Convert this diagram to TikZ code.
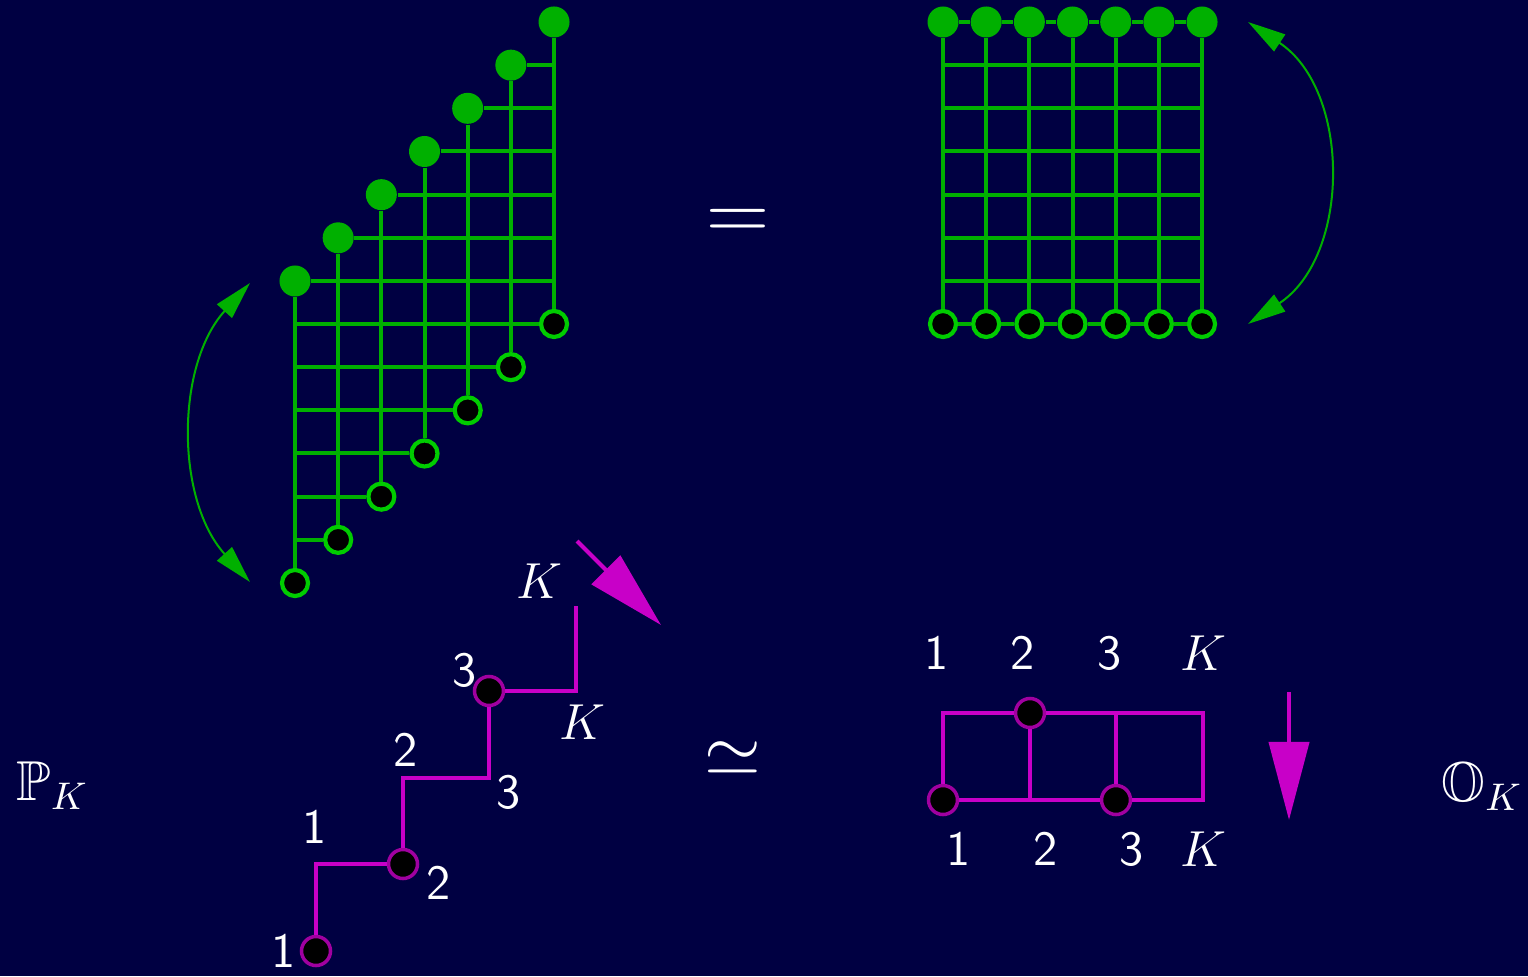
\documentclass[tikz,border=0pt]{standalone}
\usepackage{amssymb}
\usetikzlibrary{arrows.meta}
\definecolor{bgc}{RGB}{0,0,66}
\definecolor{ggreen}{RGB}{0,176,0}
\definecolor{gbright}{RGB}{0,204,0}
\definecolor{mag}{RGB}{200,0,200}
\definecolor{magdark}{RGB}{160,0,160}
\tikzset{
  gline/.style={draw=ggreen, line width=0.04cm},
  gdot/.style={circle, fill=ggreen, inner sep=0pt, minimum size=0.31cm},
  gring/.style={circle, draw=gbright, line width=0.042cm, fill=black, inner sep=0pt, minimum size=0.26cm},
  mline/.style={draw=mag, line width=0.04cm},
  mring/.style={circle, draw=magdark, line width=0.035cm, fill=black, inner sep=0pt, minimum size=0.29cm},
  lbl/.style={text=white, inner sep=0pt, font=\fontsize{14}{17}\selectfont\sffamily},
  garc/.style={draw=ggreen, line width=0.02cm, {Triangle[length=0.38cm,width=0.20cm]}-{Triangle[length=0.38cm,width=0.20cm]}},
  marrow/.style={draw=mag, line width=0.04cm, -{Triangle[length=0.78cm,width=0.40cm]}},
}
\begin{document}
\begin{tikzpicture}[x=0.01cm,y=-0.01cm]
\fill[bgc] (0,0) rectangle (1528,976);
\useasboundingbox (0,0) rectangle (1528,976);

% ---------- left staircase grid ----------
\foreach \i in {1,...,7}{
  \node[gdot] (Lt\i) at ({295+(\i-1)*43.17},{281-(\i-1)*43.17}) {};
  \node[gring] (Lb\i) at ({295+(\i-1)*43.17},{583-(\i-1)*43.17}) {};
}
\foreach \i in {1,...,7}{ \draw[gline] (Lt\i) -- (Lb\i); }
\foreach \j in {1,...,6}{ \draw[gline] (Lt\j) -- (Lt\j -| Lt7); }
\foreach \j in {2,...,7}{ \draw[gline] (Lb\j) -- (Lb\j -| Lt1); }

% ---------- right square grid ----------
\foreach \i in {1,...,7}{
  \node[gdot] (Rt\i) at ({943+(\i-1)*43.17},22) {};
  \node[gring] (Rb\i) at ({943+(\i-1)*43.17},324) {};
}
\foreach \i in {1,...,7}{ \draw[gline] (Rt\i) -- (Rb\i); }
\foreach \i [evaluate=\i as \n using int(\i+1)] in {1,...,6}{
  \draw[gline] (Rt\i) -- (Rt\n);
  \draw[gline] (Rb\i) -- (Rb\n);
}
\foreach \j in {1,...,6}{ \draw[gline] (943,{22+\j*43.14}) -- (1202,{22+\j*43.14}); }

% ---------- green arcs ----------
\coordinate (la1) at (250,283);
\coordinate (la2) at (250,582);
\draw[garc] (la1) .. controls (175.5,365.1) and (175.5,499.9) .. (la2);
\coordinate (ra1) at (1248,22);
\coordinate (ra2) at (1248,324);
\draw[garc] (ra1) .. controls (1351,90.2) and (1351,255.8) .. (ra2);

% ---------- relations ----------
\node[text=white, inner sep=0pt, font=\fontsize{24}{28}\selectfont, anchor=base] (eq) at (738,240) {$=$};
\node[text=white, inner sep=0pt, font=\fontsize{20}{24}\selectfont, anchor=base] (sim) at (733,775) {$\simeq$};
\node[text=white, inner sep=0pt, font=\fontsize{16}{19}\selectfont, anchor=base west] (PK) at (16,800) {$\mathbb{P}_K$};
\node[text=white, inner sep=0pt, font=\fontsize{16}{19}\selectfont, anchor=base west] (OK) at (1441,801) {$\mathbb{O}_K$};

% ---------- magenta staircase ----------
\node[mring] (m1) at (316,951) {};
\node[mring] (m2) at (403,864) {};
\node[mring] (m3) at (489,691) {};
\coordinate (s1) at (316,864);
\coordinate (s2) at (403,778);
\coordinate (s3) at (489,778);
\coordinate (s4) at (576,691);
\coordinate (s5) at (576,606);
\draw[mline] (m1) -- (s1) -- (m2) -- (s2) -- (s3) -- (m3) -- (s4) -- (s5);

\node[lbl] (t1a) at (284,951) {1};
\node[lbl] (t1b) at (315,827) {1};
\node[lbl] (t2a) at (406,750) {2};
\node[lbl] (t3a) at (465,670) {3};
\node[lbl] (t2b) at (439,883) {2};
\node[lbl] (t3b) at (509,792) {3};
\node[lbl] (tKa) at (539,581) {$K$};
\node[lbl] (tKb) at (582,722) {$K$};

\coordinate (a1) at (577,541);
\coordinate (a2) at (661,625);
\draw[marrow] (a1) -- (a2);

% ---------- magenta box ----------
\node[mring] (rb1) at (943,800) {};
\node[mring] (rt2) at (1030,713) {};
\node[mring] (rb3) at (1116,800) {};
\coordinate (q1) at (943,713);
\coordinate (q2) at (1116,713);
\coordinate (q3) at (1203,713);
\coordinate (q4) at (1203,800);
\coordinate (q5) at (1030,800);
\draw[mline] (rb1) -- (q1) -- (rt2) -- (q2) -- (q3) -- (q4) -- (rb3) -- (q5) -- (rb1);
\draw[mline] (rt2) -- (q5);
\draw[mline] (q2) -- (rb3);

\node[lbl] (u1) at (937,653) {1};
\node[lbl] (u2) at (1023,653) {2};
\node[lbl] (u3) at (1110,653) {3};
\node[lbl] (uK) at (1203,653) {$K$};
\node[lbl] (v1) at (959,849) {1};
\node[lbl] (v2) at (1046,849) {2};
\node[lbl] (v3) at (1132,849) {3};
\node[lbl] (vK) at (1203,849) {$K$};

\coordinate (d1) at (1289,692);
\coordinate (d2) at (1289,820);
\draw[marrow] (d1) -- (d2);
\end{tikzpicture}
\end{document}
